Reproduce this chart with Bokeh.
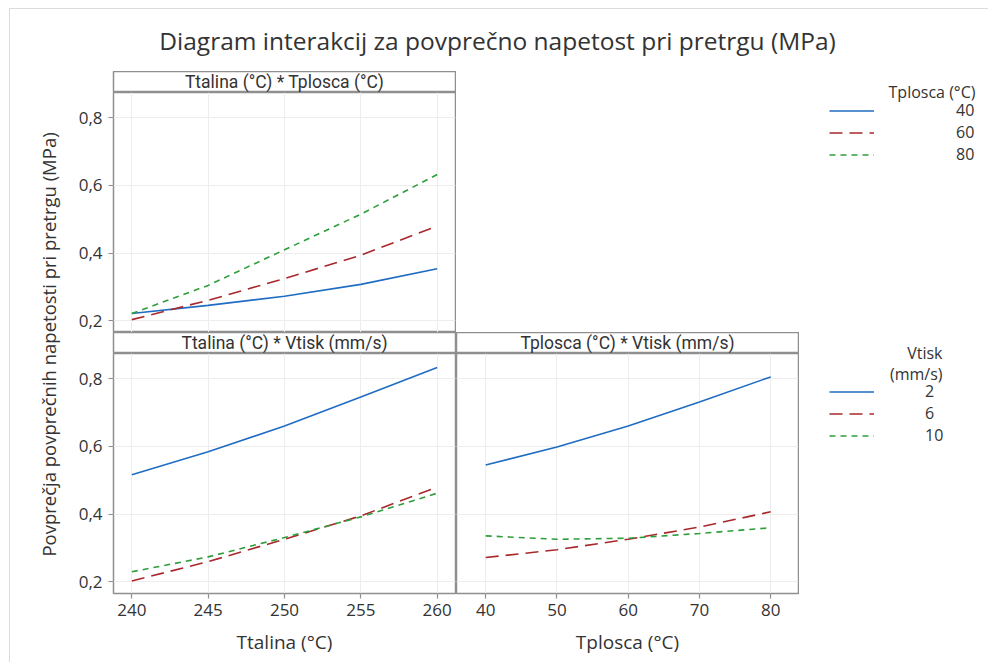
from bokeh.plotting import figure
from bokeh.layouts import row, column
from bokeh.models import Range1d, FixedTicker, Legend, LegendItem, Grid, Spacer
from bokeh.core.properties import value
from bokeh.embed import file_html
from bokeh.resources import INLINE
import math

# ---------------- data ----------------
title_text = "Diagram interakcij za povprečno napetost pri pretrgu (MPa)"
y_label = "Povprečja povprečnih napetosti pri pretrgu (MPa)"
panel_titles = ["Ttalina (°C) * Tplosca (°C)", "Ttalina (°C) * Vtisk (mm/s)", "Tplosca (°C) * Vtisk (mm/s)"]
x_labels = ["Ttalina (°C)", "Tplosca (°C)"]

ttalina = [240, 245, 250, 255, 260]
tplosca = [40, 50, 60, 70, 80]

# Ttalina * Tplosca (series by Tplosca)
tl_tplosca40 = [0.222, 0.246, 0.273, 0.308, 0.354]
tl_tplosca60 = [0.204, 0.261, 0.325, 0.394, 0.480]
tl_tplosca80 = [0.222, 0.305, 0.410, 0.515, 0.632]

# Ttalina * Vtisk (series by Vtisk)
bl_vtisk2 = [0.516, 0.584, 0.660, 0.746, 0.833]
bl_vtisk6 = [0.203, 0.260, 0.326, 0.395, 0.480]
bl_vtisk10 = [0.230, 0.274, 0.331, 0.392, 0.462]

# Tplosca * Vtisk (series by Vtisk)
br_vtisk2 = [0.545, 0.598, 0.660, 0.731, 0.805]
br_vtisk6 = [0.272, 0.295, 0.326, 0.362, 0.407]
br_vtisk10 = [0.336, 0.326, 0.329, 0.343, 0.360]

y_ticks = [0.2, 0.4, 0.6, 0.8]
y_tick_labels = ["0,2", "0,4", "0,6", "0,8"]
ttalina_ticks = [240, 245, 250, 255, 260]
tplosca_ticks = [40, 50, 60, 70, 80]

legend1_title = "Tplosca (°C)"
legend1_labels = ["40", "60", "80"]
legend2_title = ["Vtisk", "(mm/s)"]
legend2_labels = ["2", "6", "10"]

# ---------------- styles ----------------
FONT = "Open Sans"
STRIP_FONT = "Roboto"
TXT = "#333333"
FRAME = "#8f8f8f"
GRID = "#ededed"
BLUE = "#1f6cc3"
RED = "#a8282c"
GREEN = "#2e9e3a"
series_styles = [(BLUE, "solid"), (RED, "13 7"), (GREEN, "6 5")]
LW = 1.6

Y0, Y1 = 0.166, 0.874
TT_RANGE = (238.8, 261.2)
TP_RANGE = (35.9, 83.9)
LEFT_BORDER = 51


def blank(w, h, xr, yr, left=0, right=0):
    p = figure(width=w, height=h, x_range=Range1d(*xr), y_range=Range1d(*yr),
               output_backend="svg", toolbar_location=None,
               x_axis_location=None, y_axis_location=None)
    p.min_border = 0
    p.min_border_left = left
    p.min_border_right = right
    p.min_border_top = 0
    p.min_border_bottom = 0
    p.grid.visible = False
    p.outline_line_color = None
    p.background_fill_color = "white"
    p.border_fill_color = "white"
    return p


def strip(w, label, left):
    s = blank(w, 21, (0, 1), (0, 1), left=left, right=1)
    s.outline_line_color = FRAME
    s.outline_line_width = 1.5
    s.text(x=[0.5], y=[0.5], text=[label], text_align="center", text_baseline="middle",
           text_font=value(STRIP_FONT), text_font_size=value("17.5px"), text_color=TXT)
    return s


def panel(w, h, xr, xticks, show_x, show_y, xlabel=None):
    p = figure(width=w, height=h, x_range=Range1d(*xr), y_range=Range1d(Y0, Y1),
               output_backend="svg", toolbar_location=None,
               x_axis_location="below" if show_x else None,
               y_axis_location="left" if show_y else None)
    p.min_border = 0
    p.min_border_left = LEFT_BORDER if show_y else 0
    p.min_border_right = 1
    p.min_border_top = 0
    p.min_border_bottom = 69 if show_x else 0
    p.outline_line_color = FRAME
    p.outline_line_width = 1.5
    p.background_fill_color = "white"
    p.border_fill_color = "white"
    if len(p.xgrid) == 0:
        p.add_layout(Grid(dimension=0), "center")
    if len(p.ygrid) == 0:
        p.add_layout(Grid(dimension=1), "center")
    p.xgrid.ticker = FixedTicker(ticks=xticks)
    p.ygrid.ticker = FixedTicker(ticks=y_ticks)
    p.xgrid.grid_line_color = GRID
    p.ygrid.grid_line_color = GRID
    p.xgrid.grid_line_width = 1
    p.ygrid.grid_line_width = 1
    axes = []
    if show_x:
        ax = p.xaxis[0]
        ax.ticker = FixedTicker(ticks=xticks)
        ax.axis_label = xlabel
        ax.axis_label_standoff = 10
        ax.major_label_standoff = 5
        axes.append(ax)
    if show_y:
        ay = p.yaxis[0]
        ay.ticker = FixedTicker(ticks=y_ticks)
        ay.major_label_overrides = {t: l for t, l in zip(y_ticks, y_tick_labels)}
        ay.major_label_standoff = 6
        axes.append(ay)
    for a in axes:
        a.axis_line_color = None
        a.major_tick_out = 5
        a.major_tick_in = 0
        a.major_tick_line_color = FRAME
        a.major_tick_line_width = 1.2
        a.minor_tick_line_color = None
        a.major_label_text_font = FONT
        a.major_label_text_font_size = "17px"
        a.major_label_text_color = TXT
        a.axis_label_text_font = FONT
        a.axis_label_text_font_size = "19px"
        a.axis_label_text_font_style = "normal"
        a.axis_label_text_color = TXT
    return p


def draw(p, xs, series, visible=True):
    rs = []
    for ys, (c, d) in zip(series, series_styles):
        rs.append(p.line(x=xs, y=ys, line_color=c, line_dash=d, line_width=LW, visible=visible))
    return rs


# ---------------- title & y label ----------------
T = blank(978, 62, (0, 978), (0, 62))
T.text(x=[487], y=[31], text=[title_text], text_align="center", text_baseline="middle",
       text_font=value(FONT), text_font_size=value("24.5px"), text_color=TXT)

L = blank(52, 591, (0, 52), (0, 591))
L.text(x=[38], y=[318], text=[y_label], angle=math.pi / 2, text_align="center",
       text_baseline="middle", text_font=value(FONT), text_font_size=value("18.5px"),
       text_color=TXT)

# ---------------- panels ----------------
LW_PANEL = 394
TLs = strip(LW_PANEL, panel_titles[0], LEFT_BORDER)
TL = panel(LW_PANEL, 240, TT_RANGE, ttalina_ticks, False, True)
draw(TL, ttalina, [tl_tplosca40, tl_tplosca60, tl_tplosca80])

BLs = strip(LW_PANEL, panel_titles[1], LEFT_BORDER)
BL = panel(LW_PANEL, 309, TT_RANGE, ttalina_ticks, True, True, x_labels[0])
draw(BL, ttalina, [bl_vtisk2, bl_vtisk6, bl_vtisk10])

BRs = strip(343, panel_titles[2], 0)
BR = panel(343, 309, TP_RANGE, tplosca_ticks, True, False, x_labels[1])
draw(BR, tplosca, [br_vtisk2, br_vtisk6, br_vtisk10])


# ---------------- legends ----------------
def legend_fig(w, h, labels, xs, series, loc, standoff):
    g = blank(w, h, (0, w), (0, h))
    rs = draw(g, xs, series, visible=False)
    items = [LegendItem(label=lab, renderers=[r]) for lab, r in zip(labels, rs)]
    leg = Legend(items=items, location=loc, glyph_width=45, glyph_height=21,
                 label_height=21, label_standoff=standoff, spacing=0, padding=0,
                 margin=0, border_line_color=None, background_fill_alpha=0,
                 label_text_font=FONT, label_text_font_size="16px",
                 label_text_color=TXT, click_policy="none")
    g.add_layout(leg)
    return g


LG1 = legend_fig(532, 261, legend1_labels, ttalina,
                 [tl_tplosca40, tl_tplosca60, tl_tplosca80], (373, 167), 82)
LG1.text(x=[519], y=[241], text=[legend1_title], text_align="right", text_baseline="middle",
         text_font=value(FONT), text_font_size=value("16px"), text_color=TXT)

LG2 = legend_fig(189, 330, legend2_labels, ttalina,
                 [bl_vtisk2, bl_vtisk6, bl_vtisk10], (30, 216), 51)
LG2.text(x=[143, 143], y=[310, 289], text=legend2_title, text_align="right",
         text_baseline="middle", text_font=value(FONT), text_font_size=value("16px"),
         text_color=TXT)

content = column(
    T,
    row(
        L,
        column(
            row(column(TLs, TL), LG1),
            row(column(BLs, BL), column(BRs, BR), LG2),
        ),
    ),
    styles={"border-left": "1px solid #dcdcdc", "border-top": "1px solid #dcdcdc"},
)

layout = column(Spacer(height=8), row(Spacer(width=9), content))

open("out.html", "w").write(file_html(layout, INLINE))
